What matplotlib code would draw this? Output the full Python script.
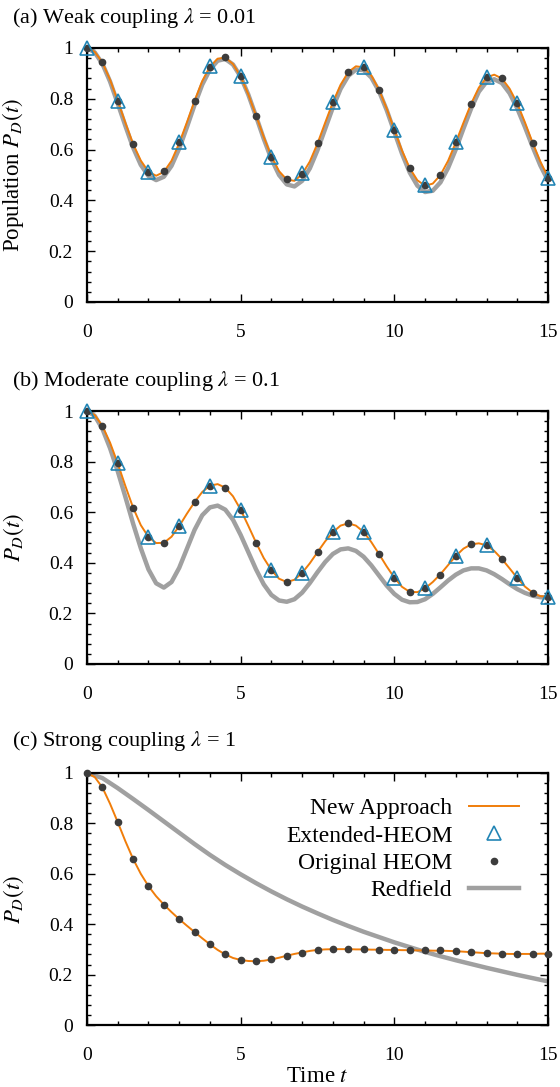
import numpy as np
import matplotlib
matplotlib.use("Agg")
import matplotlib.pyplot as plt
from matplotlib.ticker import MultipleLocator, FuncFormatter
from matplotlib.lines import Line2D

plt.rcParams['font.family'] = ['Liberation Serif', 'DejaVu Serif']
plt.rcParams['mathtext.fontset'] = 'stix'

# time grids
t_line = np.arange(0, 15.001, 0.25)
t_dots = np.arange(0, 15.001, 0.5)
t_tri = np.arange(0, 16, 1)

# (a) weak coupling
new_a = [1.000, 0.985, 0.943, 0.875, 0.792, 0.705, 0.622, 0.557, 0.513, 0.497,
         0.512, 0.556, 0.625, 0.707, 0.792, 0.870, 0.926, 0.958, 0.962, 0.937,
         0.888, 0.817, 0.734, 0.650, 0.573, 0.515, 0.482, 0.477, 0.503, 0.553,
         0.624, 0.706, 0.786, 0.855, 0.905, 0.928, 0.924, 0.892, 0.836, 0.762,
         0.678, 0.596, 0.527, 0.479, 0.458, 0.466, 0.500, 0.556, 0.628, 0.706,
         0.781, 0.844, 0.884, 0.895, 0.880, 0.840, 0.782, 0.707, 0.627, 0.553,
         0.492]
red_a = [1.000, 0.983, 0.938, 0.868, 0.782, 0.693, 0.608, 0.540, 0.496, 0.480,
         0.493, 0.536, 0.604, 0.688, 0.776, 0.856, 0.915, 0.950, 0.957, 0.935,
         0.887, 0.816, 0.731, 0.643, 0.563, 0.500, 0.463, 0.455, 0.477, 0.526,
         0.598, 0.682, 0.766, 0.839, 0.890, 0.915, 0.913, 0.884, 0.830, 0.756,
         0.670, 0.584, 0.510, 0.458, 0.433, 0.438, 0.471, 0.528, 0.601, 0.683,
         0.762, 0.828, 0.867, 0.877, 0.862, 0.822, 0.762, 0.689, 0.611, 0.538,
         0.478]
dots_a = [1.000, 0.943, 0.792, 0.621, 0.513, 0.516, 0.628, 0.792, 0.924, 0.965,
          0.888, 0.733, 0.572, 0.483, 0.505, 0.625, 0.787, 0.906, 0.924, 0.836,
          0.678, 0.526, 0.460, 0.500, 0.628, 0.780, 0.884, 0.882, 0.783, 0.625,
          0.490]
tri_a = [1.000, 0.790, 0.513, 0.628, 0.928, 0.888, 0.572, 0.507, 0.787, 0.924,
         0.678, 0.460, 0.628, 0.884, 0.783, 0.490]

# (b) moderate coupling
new_b = [1.000, 0.984, 0.941, 0.875, 0.793, 0.703, 0.618, 0.549, 0.502, 0.478,
         0.479, 0.503, 0.545, 0.594, 0.640, 0.680, 0.705, 0.711, 0.697, 0.663,
         0.610, 0.546, 0.480, 0.419, 0.371, 0.337, 0.324, 0.333, 0.360, 0.398,
         0.442, 0.485, 0.521, 0.547, 0.556, 0.547, 0.522, 0.482, 0.435, 0.386,
         0.341, 0.305, 0.285, 0.284, 0.299, 0.324, 0.355, 0.391, 0.427, 0.456,
         0.473, 0.477, 0.469, 0.447, 0.415, 0.378, 0.340, 0.306, 0.282, 0.268,
         0.266]
red_b = [1.000, 0.981, 0.930, 0.853, 0.762, 0.660, 0.555, 0.458, 0.374, 0.319,
         0.302, 0.324, 0.380, 0.455, 0.530, 0.588, 0.619, 0.626, 0.610, 0.570,
         0.510, 0.442, 0.374, 0.315, 0.273, 0.251, 0.246, 0.256, 0.282, 0.320,
         0.363, 0.403, 0.435, 0.453, 0.457, 0.447, 0.424, 0.390, 0.350, 0.310,
         0.277, 0.254, 0.244, 0.245, 0.256, 0.277, 0.303, 0.330, 0.353, 0.370,
         0.378, 0.378, 0.370, 0.355, 0.336, 0.315, 0.296, 0.281, 0.270, 0.264,
         0.262]
dots_b = [1.000, 0.941, 0.793, 0.618, 0.503, 0.480, 0.545, 0.639, 0.705, 0.697,
          0.609, 0.480, 0.372, 0.323, 0.358, 0.441, 0.520, 0.556, 0.523, 0.435,
          0.341, 0.286, 0.299, 0.352, 0.427, 0.474, 0.469, 0.415, 0.339, 0.282,
          0.266]
tri_b = [1.000, 0.793, 0.503, 0.545, 0.705, 0.609, 0.372, 0.358, 0.520, 0.523,
         0.341, 0.299, 0.427, 0.469, 0.339, 0.266]

# (c) strong coupling
new_c = [1.000, 0.984, 0.943, 0.878, 0.805, 0.729, 0.659, 0.600, 0.551, 0.511,
         0.478, 0.448, 0.420, 0.394, 0.369, 0.344, 0.320, 0.298, 0.280, 0.266,
         0.258, 0.254, 0.253, 0.255, 0.260, 0.267, 0.275, 0.282, 0.288, 0.294,
         0.298, 0.300, 0.301, 0.301, 0.301, 0.300, 0.300, 0.299, 0.299, 0.298,
         0.298, 0.297, 0.297, 0.296, 0.296, 0.295, 0.295, 0.294, 0.293, 0.291,
         0.289, 0.287, 0.285, 0.284, 0.283, 0.282, 0.282, 0.282, 0.282, 0.283,
         0.283]
# Redfield (c) is sampled every 0.5
red_c = [1.000, 0.980, 0.940, 0.897, 0.853, 0.808, 0.763, 0.718, 0.675, 0.635,
         0.598, 0.563, 0.530, 0.499, 0.470, 0.443, 0.417, 0.393, 0.370, 0.349,
         0.328, 0.309, 0.290, 0.273, 0.257, 0.242, 0.227, 0.213, 0.199, 0.186,
         0.173]
dots_c = [1.000, 0.945, 0.806, 0.660, 0.551, 0.478, 0.420, 0.370, 0.321, 0.281,
          0.258, 0.252, 0.260, 0.275, 0.287, 0.296, 0.301, 0.301, 0.300, 0.299,
          0.297, 0.297, 0.296, 0.296, 0.293, 0.288, 0.284, 0.282, 0.282, 0.282,
          0.283]

titles = [r"(a) Weak coupling $\lambda$ = 0.01",
          r"(b) Moderate coupling $\lambda$ = 0.1",
          r"(c) Strong coupling $\lambda$ = 1"]
ylabels = [r"Population $P_D(t)$", r"$P_D(t)$", r"$P_D(t)$"]

c_new = '#f07d0a'
c_tri = '#2285b5'
c_dot = '#3c3c3c'
c_red = '#a0a0a0'

fig = plt.figure(figsize=(5.6, 10.87), dpi=100)
W, H = 560.0, 1087.0
left, right = 87, 548
boxes = [(48, 302), (411, 664), (773, 1025)]
title_y = [18, 381, 741]

panels = [
    (new_a, red_a, dots_a, tri_a),
    (new_b, red_b, dots_b, tri_b),
    (new_c, red_c, dots_c, None),
]

fmt = FuncFormatter(lambda v, p: '%g' % round(v, 2))

for i, (new, red, dots, tri) in enumerate(panels):
    top, bot = boxes[i]
    ax = fig.add_axes([left / W, 1 - bot / H, (right - left) / W, (bot - top) / H])
    t_red = t_line if len(red) == len(t_line) else t_dots
    ax.plot(t_red, red, color=c_red, lw=3.2, zorder=1, label='Redfield')
    ax.plot(t_line, new, color=c_new, lw=1.4, zorder=2, label='New Approach')
    ax.plot(t_dots, dots, 'o', color=c_dot, ms=4.5, zorder=3, clip_on=False,
            label='Original HEOM')
    if tri is not None:
        ax.plot(t_tri, tri, '^', mfc='none', mec=c_tri, ms=10, mew=1.2,
                zorder=4, clip_on=False, label='Extended-HEOM')
    ax.set_xlim(0, 15)
    ax.set_ylim(0, 1)
    ax.xaxis.set_major_locator(MultipleLocator(5))
    ax.xaxis.set_minor_locator(MultipleLocator(1))
    ax.yaxis.set_major_locator(MultipleLocator(0.2))
    ax.yaxis.set_minor_locator(MultipleLocator(0.04))
    ax.xaxis.set_major_formatter(fmt)
    ax.yaxis.set_major_formatter(fmt)
    ax.tick_params(which='both', direction='in', top=True, right=True,
                   labelsize=14, width=1.0)
    ax.tick_params(axis='x', which='major', pad=16)
    ax.tick_params(axis='y', which='major', pad=10)
    ax.tick_params(which='major', length=5.5)
    ax.tick_params(which='minor', length=3)
    for s in ax.spines.values():
        s.set_linewidth(1.6)
    ax.set_ylabel(ylabels[i], fontsize=16.5)
    ax.yaxis.set_label_coords(-0.132, 0.5)
    fig.text(12 / W, 1 - title_y[i] / H, titles[i], fontsize=16, va='center')

    if i == 2:
        ax.set_xlabel(r"Time $t$", fontsize=16.5, labelpad=1)
        handles = [
            Line2D([], [], color=c_new, lw=1.4),
            Line2D([], [], ls='none', marker='^', mfc='none', mec=c_tri, ms=10, mew=1.2),
            Line2D([], [], ls='none', marker='o', color=c_dot, ms=4.5),
            Line2D([], [], color=c_red, lw=3.2),
        ]
        labels = ['New Approach', 'Extended-HEOM', 'Original HEOM', 'Redfield']
        ax.legend(handles, labels, loc='upper right', bbox_to_anchor=(0.972, 0.968),
                  frameon=False, markerfirst=False, fontsize=17,
                  handlelength=2.1, handletextpad=0.7, labelspacing=0.25,
                  borderpad=0.2)

fig.savefig('out.png', dpi=100)
